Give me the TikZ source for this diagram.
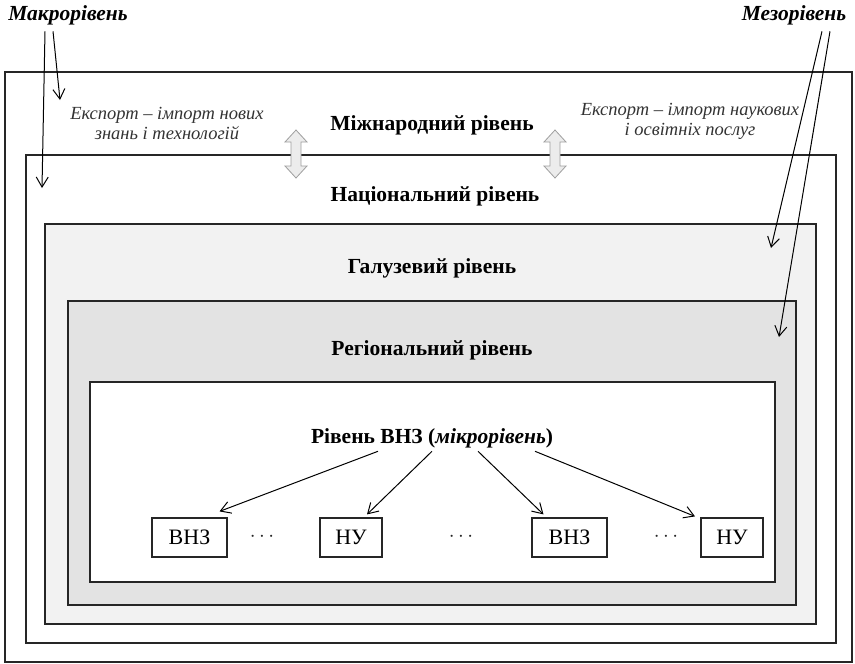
\documentclass[tikz,border=0pt]{standalone}
\usepackage{fontspec}
\setmainfont{Liberation Serif}
\usetikzlibrary{positioning, arrows.meta}

\tikzset{
  levelbox/.style={draw=black!85, line width=1.2pt},
  leveltitle/.style={font=\fontsize{21.5}{24}\selectfont\bfseries},
  sidetitle/.style={font=\fontsize{21.5}{24}\selectfont\bfseries\itshape},
  exporttext/.style={font=\fontsize{18.5}{20}\selectfont\itshape, align=center, text=black!80},
  unitbox/.style={draw=black!85, line width=1.2pt, fill=white,
    minimum height=39pt, inner sep=0pt, font=\fontsize{22}{24}\selectfont},
  dotsnode/.style={font=\fontsize{22}{24}\selectfont, text=black!85},
  pointer/.style={-{Straight Barb[length=10pt, width=12pt]}, line width=1pt},
  exchange/.style={draw=gray!75, fill=gray!15, line width=0.8pt, line join=miter}
}

\begin{document}
\begin{tikzpicture}[x=1pt, y=-1pt]

\fill[white] (0,0) rectangle (855,664);
\useasboundingbox (0,0) rectangle (855,664);

% nested levels
\draw[levelbox, fill=white] (5,72) rectangle (852,662);
\draw[levelbox, fill=white] (26,155) rectangle (836,643);
\draw[levelbox, fill=gray!10] (45,224) rectangle (816,624);
\draw[levelbox, fill=gray!22] (68,301) rectangle (796,605);
\draw[levelbox, fill=white] (90,382) rectangle (775,582);

% level titles
\node[leveltitle] (intl) at (432,125) {Міжнародний рівень};
\node[leveltitle] (natl) at (435,196) {Національний рівень};
\node[leveltitle] (branch) at (432,268) {Галузевий рівень};
\node[leveltitle] (region) at (432,350) {Регіональний рівень};
\node[leveltitle] (micro) at (432,438) {Рівень ВНЗ (\textit{мікрорівень})};

\node[exporttext] (exportL) at (167,123) {Експорт -- імпорт нових\\знань і технологій};
\node[exporttext] (exportR) at (690,121) {Експорт -- імпорт наукових\\і освітніх послуг};

% exchange arrows between international and national level
\foreach \sx in {296,555}
  \draw[exchange, shift={(\sx,154)}]
    (0,-24) -- (11,-12) -- (5,-12) -- (5,12) -- (11,12) -- (0,24)
    -- (-11,12) -- (-5,12) -- (-5,-12) -- (-11,-12) -- cycle;

% units
\node[unitbox, minimum width=75pt] (vnzA) at (189.5,537.5) {ВНЗ};
\node[unitbox, minimum width=62pt] (nuA) at (351,537.5) {НУ};
\node[unitbox, minimum width=75pt] (vnzB) at (569.5,537.5) {ВНЗ};
\node[unitbox, minimum width=62pt] (nuB) at (732,537.5) {НУ};

\node[dotsnode] (dotsA) at (262,537) {$\cdots$};
\node[dotsnode] (dotsB) at (461,537) {$\cdots$};
\node[dotsnode] (dotsC) at (666,537) {$\cdots$};

\draw[pointer] ([xshift=-54pt]micro.south) -- ([xshift=30pt,yshift=6pt]vnzA.north);
\draw[pointer] ([xshift=0pt]micro.south) -- ([xshift=16pt,yshift=3pt]nuA.north);
\draw[pointer] ([xshift=46pt]micro.south) -- ([xshift=-26pt,yshift=3pt]vnzB.north);
\draw[pointer] ([xshift=103pt]micro.south) -- ([xshift=-37pt,yshift=1pt]nuB.north);

% macro and meso levels
\node[sidetitle] (macro) at (68,15) {Макрорівень};
\node[sidetitle] (meso) at (794,15) {Мезорівень};

\coordinate (macroA) at (42,188);
\coordinate (macroB) at (60,100);
\coordinate (mesoA) at (771,248);
\coordinate (mesoB) at (779,337);

\draw[pointer] ([xshift=-23pt,yshift=-3pt]macro.south) -- (macroA);
\draw[pointer] ([xshift=-15pt,yshift=-3pt]macro.south) -- (macroB);
\draw[pointer] ([xshift=28pt,yshift=-3pt]meso.south) -- (mesoA);
\draw[pointer] ([xshift=36pt,yshift=-3pt]meso.south) -- (mesoB);

\end{tikzpicture}
\end{document}
